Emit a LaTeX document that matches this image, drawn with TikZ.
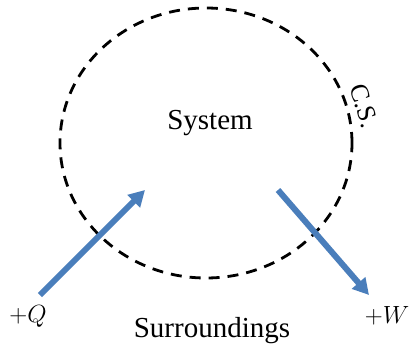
\documentclass[tikz,border=0pt]{standalone}
\usepackage{fontspec}
\setmainfont{Liberation Serif}
\usetikzlibrary{arrows.meta,shapes.geometric}
\definecolor{arrowblue}{RGB}{74,126,187}
\begin{document}
\begin{tikzpicture}[x=1pt,y=-1pt,
  csline/.style={draw=black,line width=2.8pt,dash pattern=on 11pt off 8pt},
  flow/.style={draw=arrowblue,line width=6pt,-{Triangle[length=16pt,width=17pt]}},
  lbl/.style={font=\fontsize{29}{34}\selectfont,inner sep=0pt}]
\useasboundingbox (0,0) rectangle (409,353);
\fill[white] (0,0) rectangle (409,353);
\node[csline,ellipse,inner sep=0pt,minimum width=292pt,minimum height=270pt] (cs) at (206,143) {};
\node[lbl] (sys) at (210,123) {System};
\node[lbl,font=\fontsize{26}{30}\selectfont,rotate=-72] (csl) at (364,106) {C.S.};
\node[lbl] (sur) at (212,331) {Surroundings};
\node[lbl] (q) at (28,316) {$+Q$};
\node[lbl] (w) at (387,316) {$+W$};
\coordinate (qs) at (40,295);
\coordinate (qe) at (145,190);
\coordinate (ws) at (278,190);
\coordinate (we) at (369,295);
\draw[flow] (qs) -- (qe);
\draw[flow] (ws) -- (we);
\end{tikzpicture}
\end{document}
